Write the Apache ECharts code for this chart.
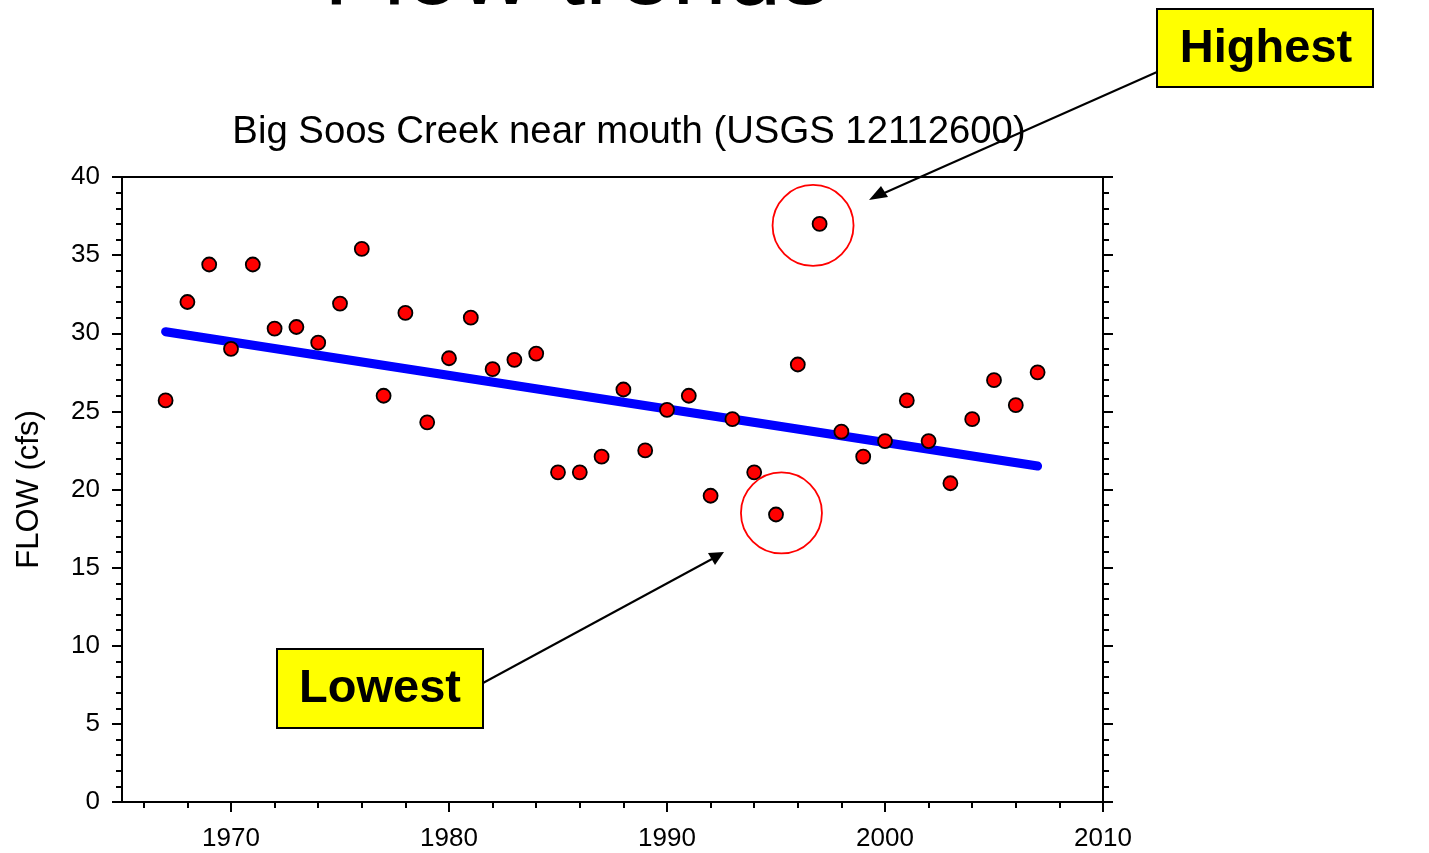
<!DOCTYPE html>
<html>
<head>
<meta charset="utf-8">
<script src="https://cdn.jsdelivr.net/npm/echarts@6/dist/echarts.min.js"></script>
<style>
html,body{margin:0;padding:0;background:#fff;}
#chart{width:1429px;height:853px;}
</style>
</head>
<body>
<div id="chart"></div>
<script>
const years = [1967,1968,1969,1970,1971,1972,1973,1974,1975,1976,1977,1978,1979,1980,1981,1982,1983,1984,1985,1986,1987,1988,1989,1990,1991,1992,1993,1994,1995,1996,1997,1998,1999,2000,2001,2002,2003,2004,2005,2006,2007];
const flows = [25.7,32.0,34.4,29.0,34.4,30.3,30.4,29.4,31.9,35.4,26.0,31.3,24.3,28.4,31.0,27.7,28.3,28.7,21.1,21.1,22.1,26.4,22.5,25.1,26.0,19.6,24.5,21.1,18.4,28.0,37.0,23.7,22.1,23.1,25.7,23.1,20.4,24.5,27.0,25.4,27.5];
const trendYears = [1967, 2007];
const trendValues = [30.1, 21.5];
const highlightYears = [1996.7, 1995.25];
const highlightValues = [36.9, 18.5];
const xMajorTicks = [1970,1980,1990,2000,2010];
const xMinorTicks = [1966,1968,1972,1974,1976,1978,1982,1984,1986,1988,1992,1994,1996,1998,2002,2004,2006,2008];
const titleText = 'Big Soos Creek near mouth (USGS 12112600)';
const headingText = 'Flow trends';
const yAxisName = 'FLOW (cfs)';

const FONT = 'Arial, "Liberation Sans", sans-serif';
const chart = echarts.init(document.getElementById('chart'), null, {renderer:'canvas'});

const baseX = {type:'value', min:1965, max:2010, splitLine:{show:false}, axisPointer:{show:false}};
const lineStyle = {color:'#000', width:2};

chart.setOption({
  animation:false,
  backgroundColor:'#fff',
  title:{text:titleText, left:624, top:108, textAlign:'center',
    textStyle:{fontFamily:FONT, fontWeight:'normal', fontSize:38.3, color:'#000'}},
  grid:{left:122, right:326, top:177, bottom:51, containLabel:false},
  xAxis:[
    Object.assign({}, baseX, {position:'bottom', axisLine:{show:true, onZero:false, lineStyle},
      axisTick:{show:true, inside:false, length:10, lineStyle, customValues:xMajorTicks},
      axisLabel:{show:true, margin:24, fontFamily:FONT, fontSize:26, color:'#000', customValues:xMajorTicks,
        formatter:v=>String(v)}}),
    Object.assign({}, baseX, {position:'bottom', axisLine:{show:false, onZero:false},
      axisTick:{show:true, inside:false, length:6, lineStyle, customValues:xMinorTicks},
      axisLabel:{show:false}}),
    Object.assign({}, baseX, {position:'top', axisLine:{show:true, onZero:false, lineStyle},
      axisTick:{show:false}, axisLabel:{show:false}})
  ],
  yAxis:[
    {type:'value', min:0, max:40, interval:5, position:'left',
      name:yAxisName, nameLocation:'middle', nameRotate:90, nameGap:77,
      nameTextStyle:{fontFamily:FONT, fontSize:31, color:'#000'},
      axisLine:{show:true, onZero:false, lineStyle},
      axisTick:{show:true, length:10, lineStyle},
      minorTick:{show:true, splitNumber:5, length:6, lineStyle},
      axisLabel:{margin:22, fontFamily:FONT, fontSize:26, color:'#000'},
      splitLine:{show:false}},
    {type:'value', min:0, max:40, interval:5, position:'right',
      axisLine:{show:true, onZero:false, lineStyle},
      axisTick:{show:true, length:10, lineStyle},
      minorTick:{show:true, splitNumber:5, length:6, lineStyle},
      axisLabel:{show:false}, splitLine:{show:false}}
  ],
  series:[
    {type:'line', xAxisIndex:0, yAxisIndex:0, data:trendYears.map((x,i)=>[x,trendValues[i]]),
      symbol:'none', lineStyle:{color:'#0000ff', width:9, cap:'round'}, z:2},
    {type:'scatter', xAxisIndex:0, yAxisIndex:0, data:years.map((x,i)=>[x,flows[i]]),
      symbol:'circle', symbolSize:14,
      itemStyle:{color:'#ff0000', borderColor:'#000', borderWidth:1.8, opacity:1}, z:3},
    {type:'scatter', xAxisIndex:0, yAxisIndex:0, data:highlightYears.map((x,i)=>[x,highlightValues[i]]),
      symbol:'circle', symbolSize:81, silent:true,
      itemStyle:{color:'rgba(0,0,0,0)', borderColor:'#ff0000', borderWidth:1.8, opacity:1}, z:4}
  ],
  graphic:[
    {type:'text', x:577, y:26, style:{text:headingText, fontFamily:FONT, fontSize:98, fill:'#000', textAlign:'center', textVerticalAlign:'bottom'}, z:10},
    {type:'rect', shape:{x:1157, y:9, width:216, height:78}, style:{fill:'#ffff00', stroke:'#000', lineWidth:2}, z:10},
    {type:'text', style:{text:'Highest', x:1266, y:49, textAlign:'center', textVerticalAlign:'middle', fontFamily:FONT, fontWeight:'bold', fontSize:47, fill:'#000'}, z:11},
    {type:'rect', shape:{x:277, y:649, width:206, height:79}, style:{fill:'#ffff00', stroke:'#000', lineWidth:2}, z:10},
    {type:'text', style:{text:'Lowest', x:380, y:689, textAlign:'center', textVerticalAlign:'middle', fontFamily:FONT, fontWeight:'bold', fontSize:47, fill:'#000'}, z:11},
    {type:'line', shape:{x1:1157, y1:72, x2:882, y2:194}, style:{stroke:'#000', lineWidth:2}, z:10},
    {type:'polygon', shape:{points:[[869,200],[881,186],[888,197]]}, style:{fill:'#000'}, z:10},
    {type:'line', shape:{x1:483, y1:683, x2:712, y2:559}, style:{stroke:'#000', lineWidth:2}, z:10},
    {type:'polygon', shape:{points:[[724,552],[708,553],[715,565]]}, style:{fill:'#000'}, z:10}
  ]
});
</script>
</body>
</html>
